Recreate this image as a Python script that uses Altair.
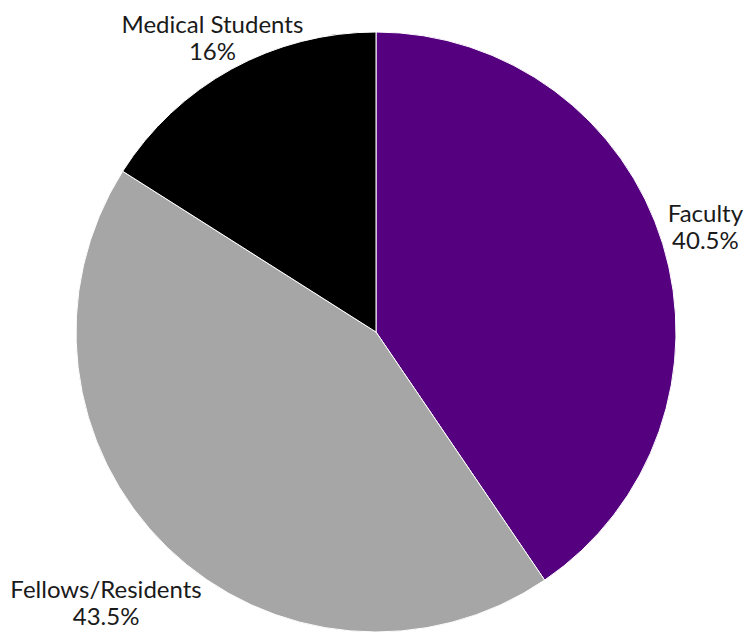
import altair as alt
import pandas as pd

categories = ["Faculty", "Fellows/Residents", "Medical Students"]
values = [40.5, 43.5, 16]
colors = ["#55007F", "#A6A6A6", "#000000"]

df = pd.DataFrame({
    "category": categories,
    "value": values,
    "order": list(range(len(categories))),
    "label": [f"{c}\n{v:g}%" for c, v in zip(categories, values)],
})

base = alt.Chart(df).encode(
    theta=alt.Theta("value:Q", stack=True),
    order=alt.Order("order:Q"),
)

pie = base.mark_arc(outerRadius=300, stroke="white", strokeWidth=1).encode(
    color=alt.Color("category:N", scale=alt.Scale(domain=categories, range=colors), legend=None)
)

# label offsets (layout only), per category
offsets = {"Faculty": (-7, -13.5), "Fellows/Residents": (-25, 6), "Medical Students": (6, 2)}

texts = []
for cat in categories:
    dx, dy = offsets[cat]
    texts.append(
        base.mark_text(
            radius=352, font="Lato", fontSize=24, lineBreak="\n", align="center",
            baseline="middle", color="#1a1a1a", lineHeight=27, dx=dx, dy=dy
        ).encode(
            text=alt.condition(alt.datum.category == cat, "label:N", alt.value(""))
        )
    )

chart = alt.layer(pie, *texts).properties(
    width=736, height=600,
    padding={"top": 24, "left": 0, "right": 0, "bottom": 0},
    autosize=alt.AutoSizeParams(type="none"),
).configure_view(stroke=None)

chart.save("out.html", embed_options={"renderer": "svg", "actions": False})
